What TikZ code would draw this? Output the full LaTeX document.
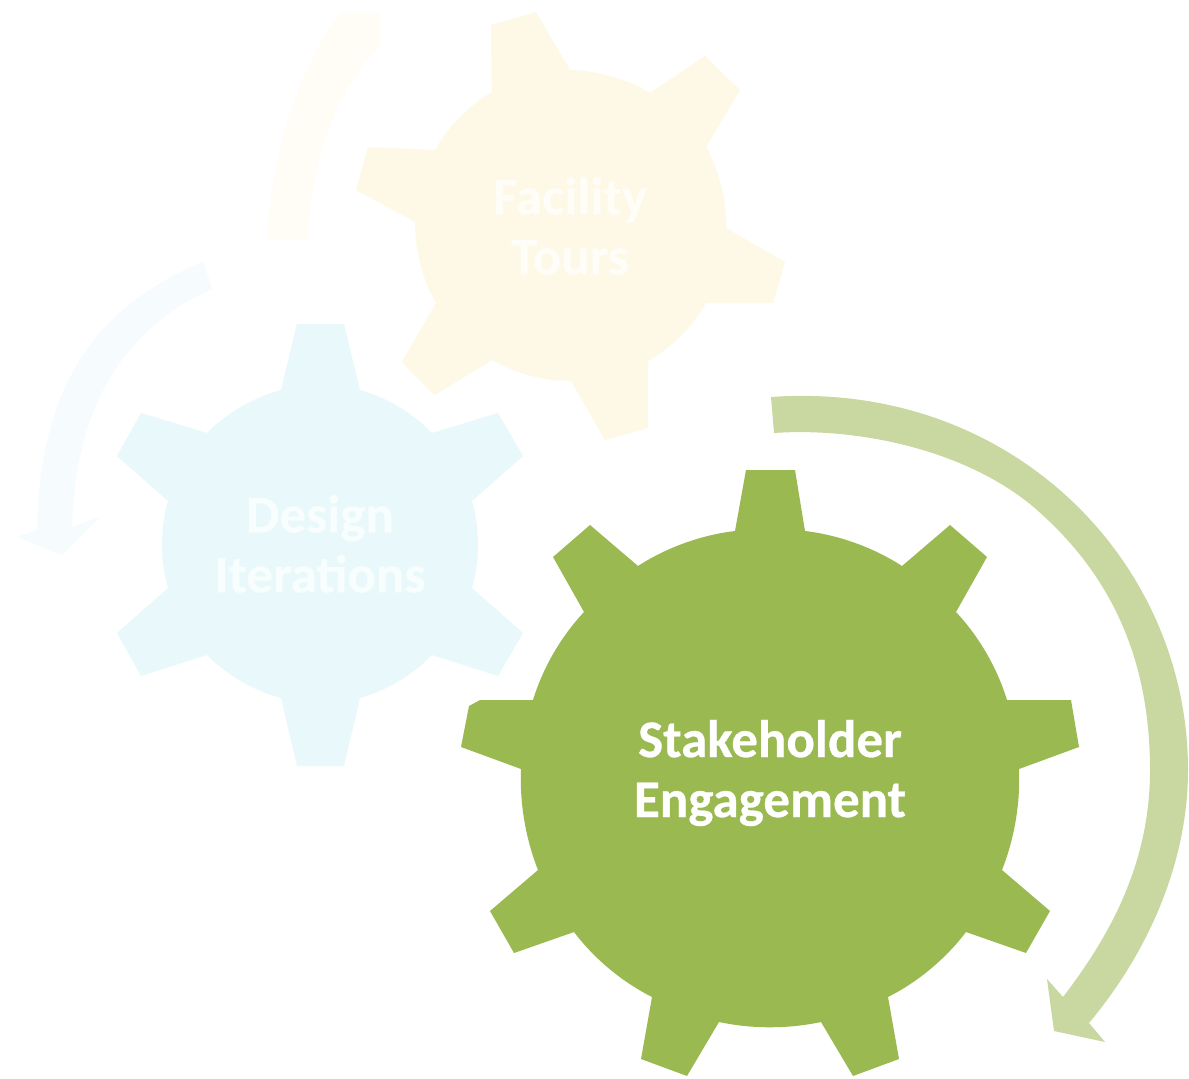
\documentclass[tikz,border=0pt]{standalone}
\usepackage{fontspec}
\setmainfont[BoldFeatures={FakeBold=0.5}]{Carlito}
\definecolor{gearGreen}{HTML}{9AB951}
\definecolor{arrowGreen}{HTML}{C9D8A1}
\definecolor{gearBlue}{HTML}{E9F8FA}
\definecolor{arrowBlue}{HTML}{F6FBFD}
\definecolor{gearYellow}{HTML}{FEF8E6}
\definecolor{arrowYellow}{HTML}{FFFDF6}
\tikzset{
  gearlabel/.style={align=center,font=\fontsize{53}{60}\selectfont\bfseries,inner sep=0pt},
}
\begin{document}
\begin{tikzpicture}[x=1pt,y=-1pt,looseness=.85]
\useasboundingbox (0,0) rectangle (1189,1079);
\fill[white] (0,0) rectangle (1189,1079);
% yellow arrow
\fill[arrowYellow] (268,240) .. controls (270,150) and (300,70) .. (340,13) -- (380,13) -- (380,45)
  .. controls (335,90) and (310,165) .. (308,240) -- cycle;
% blue arrow
\fill[arrowBlue] (203,262) .. controls (100,305) and (40,380) .. (37,530) -- (17,537) -- (62,555) -- (100,517) -- (72,527)
  .. controls (75,400) and (130,325) .. (212,289) -- cycle;
% yellow gear
\fill[gearYellow] (491,25) -- (536,12) -- (570,70) to[bend left=15] (650,93) -- (705,56) -- (740,90) -- (706,147)
  to[bend left=15] (726,228) -- (785,262) -- (773,303) -- (706,303) to[bend left=15] (648,361) -- (648,428) -- (605,440) -- (571,381)
  to[bend left=15] (492,360) -- (435,395) -- (402,362) -- (436,303) to[bend left=15] (415,222) -- (356,190) -- (368,147) -- (435,150)
  to[bend left=15] (492,92) -- cycle;
% blue gear
\fill[gearBlue] (297,324) -- (344,324) -- (360,390) to[bend left=15] (432,433) -- (498,413) -- (523,456) -- (472,501)
  to[bend left=16] (472,588) -- (523,633) -- (498,676) -- (432,655) to[bend left=15] (360,698) -- (344,766) -- (297,766) -- (281,698)
  to[bend left=15] (207,655) -- (141,676) -- (117,633) -- (168,588) to[bend left=16] (168,501) -- (117,456) -- (141,413) -- (207,433)
  to[bend left=15] (281,390) -- cycle;
% green arrow
\fill[arrowGreen] (771,397) .. controls (1010,380) and (1188,560) .. (1188,770)
  .. controls (1188,860) and (1150,950) .. (1089,1023)
  -- (1105,1042) -- (1054,1031) -- (1047,979) -- (1063,997)
  .. controls (1113,932) and (1150,860) .. (1150,770)
  .. controls (1150,660) and (1112,576) .. (1037,510)
  .. controls (970,451) and (860,427) .. (774,433) -- cycle;
% green gear
\fill[gearGreen] (746,470) -- (795,470) -- (805,531) to[bend left=13] (902,566) -- (950,525) -- (987,557) -- (956,612)
  to[bend left=13] (1007,700) -- (1071,700) -- (1079,747) -- (1019,769) to[bend left=12] (1002,870) -- (1050,911) -- (1026,953) -- (966,932)
  to[bend left=13] (888,997) -- (899,1059) -- (853,1076) -- (821,1022) to[bend left=12] (719,1022) -- (687,1076) -- (641,1059) -- (652,997)
  to[bend left=13] (574,932) -- (514,953) -- (490,911) -- (538,870) to[bend left=12] (521,769) -- (461,747) -- (469,706) -- (480,700) -- (533,700)
  to[bend left=13] (584,612) -- (553,557) -- (590,525) -- (638,566) to[bend left=13] (735,531) -- cycle;
% labels
\node[gearlabel,text=white] (stake) at (770,773) {Stakeholder\\Engagement};
\node[gearlabel,text=white!70!gearBlue] (design) at (320,544) {Design\\Iterations};
\node[gearlabel,text=white!70!gearYellow] (tours) at (570,226) {Facility\\Tours};
\end{tikzpicture}
\end{document}
